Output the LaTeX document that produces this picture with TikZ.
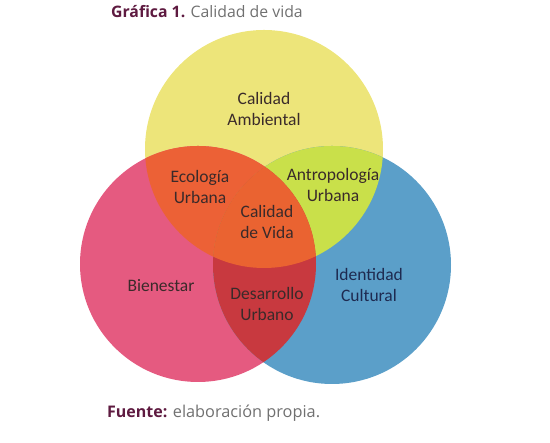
\documentclass[tikz,border=0pt]{standalone}
\usepackage{fontspec}
\setmainfont{Carlito}
\newfontfamily\titlefont{Open Sans}
\definecolor{cyel}{HTML}{EDE57A}
\definecolor{cpink}{HTML}{E55A80}
\definecolor{cblue}{HTML}{5B9FC9}
\definecolor{cyp}{HTML}{EC6136}
\definecolor{cyb}{HTML}{C9E04A}
\definecolor{cpb}{HTML}{C8393F}
\definecolor{call}{HTML}{EA6331}
\definecolor{ctitle}{HTML}{5E1A40}
\definecolor{cgray}{HTML}{707070}
\definecolor{clab}{HTML}{3A2A2A}
\definecolor{cnavy}{HTML}{1E2A50}
\begin{document}
\begin{tikzpicture}[x=1pt,y=1pt,
  lab/.style={align=center,font=\fontsize{17.5}{21.5}\selectfont,text=clab,inner sep=0pt},
  captext/.style={anchor=base west,inner sep=0pt,font=\titlefont\fontsize{15.8}{18}\selectfont}]
\useasboundingbox (0,0) rectangle (550,443);
\def\Y{(264,294) circle (119)}
\def\P{(198,179) circle (118)}
\def\B{(332,178) circle (119)}
\fill[cyel] \Y;
\fill[cpink] \P;
\fill[cblue] \B;
\begin{scope}\clip \Y; \fill[cyp] \P; \end{scope}
\begin{scope}\clip \Y; \fill[cyb] \B; \end{scope}
\begin{scope}\clip \P; \fill[cpb] \B; \end{scope}
\begin{scope}\clip \Y; \clip \P; \fill[call] \B; \end{scope}
\node[lab] (amb) at (264,334) {Calidad\\Ambiental};
\node[lab] (eco) at (200,256) {Ecología\\Urbana};
\node[lab] (antro) at (333,258) {Antropología\\Urbana};
\node[lab] (vida) at (267,221) {Calidad\\de Vida};
\node[lab] (bien) at (161,157) {Bienestar};
\node[lab] (des) at (267,139) {Desarrollo\\Urbano};
\node[lab,text=cnavy] (iden) at (369,158) {Identidad\\Cultural};
\node[captext] (title) at (111,425) {\textcolor{ctitle}{\bfseries Gráfica 1.} \textcolor{cgray}{Calidad de vida}};
\node[captext] (src) at (107,25) {\textcolor{ctitle}{\bfseries\fontsize{16}{18}\selectfont Fuente:} \textcolor{cgray}{\fontsize{16.3}{18}\selectfont elaboración propia.}};
\end{tikzpicture}
\end{document}
